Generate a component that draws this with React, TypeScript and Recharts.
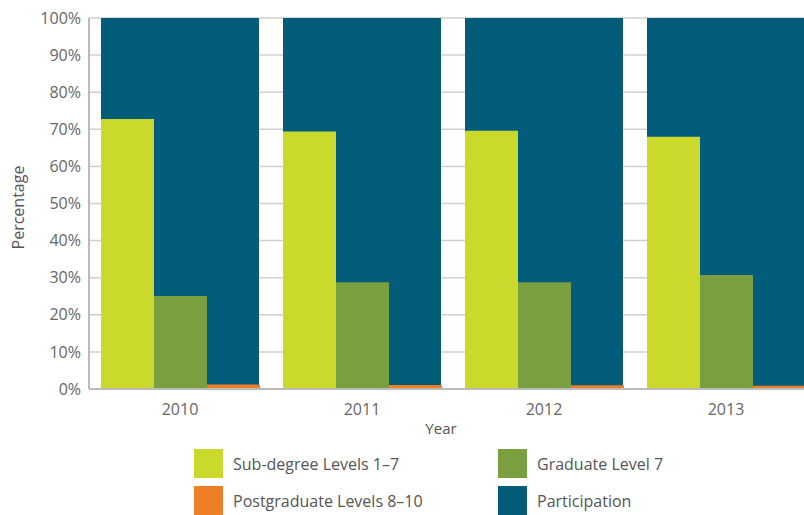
import React from 'react';
import { BarChart, Bar, XAxis, YAxis, CartesianGrid } from 'recharts';

const years = ['2010', '2011', '2012', '2013'];
const subDegree = [72.8, 69.4, 69.6, 68.0];
const graduate = [25.1, 28.8, 28.8, 30.7];
const postgraduate = [1.2, 1.1, 1.0, 0.9];
const participation = [100, 100, 100, 100];
const yTicks = [0, 10, 20, 30, 40, 50, 60, 70, 80, 90, 100];

const series = [
  { key: 'subDegree', name: 'Sub-degree Levels 1–7', color: '#cad92b' },
  { key: 'graduate', name: 'Graduate Level 7', color: '#7a9f3f' },
  { key: 'postgraduate', name: 'Postgraduate Levels 8–10', color: '#ee7f27' },
  { key: 'participation', name: 'Participation', color: '#025c7a' },
];

const data = years.map((year, i) => ({
  year,
  subDegree: subDegree[i],
  graduate: graduate[i],
  postgraduate: postgraduate[i],
  participation: participation[i],
}));

const FONT = '"Open Sans", sans-serif';
const colorOf = (k: string) => series.find((s) => s.key === k)!.color;

const YearLabel = ({ viewBox }: any) => (
  <text
    x={viewBox.x + viewBox.width / 2 - 12}
    y={viewBox.y + viewBox.height + 15}
    textAnchor="middle"
    fill="#555"
    fontSize={15}
    fontFamily={FONT}
  >
    Year
  </text>
);

const PctLabel = ({ viewBox }: any) => {
  const x = viewBox.x + 18;
  const y = viewBox.y + viewBox.height / 2 + 4;
  return (
    <text
      x={x}
      y={y}
      transform={`rotate(-90 ${x} ${y})`}
      textAnchor="middle"
      dominantBaseline="central"
      fill="#555"
      fontSize={16}
      fontFamily={FONT}
    >
      Percentage
    </text>
  );
};

const ChartLegend = () => (
  <div
    style={{
      position: 'absolute',
      left: 194,
      top: 449,
      display: 'grid',
      gridTemplateColumns: '304px auto',
      rowGap: 8,
      fontFamily: FONT,
      fontSize: 16,
      color: '#555',
    }}
  >
    {series.map((s) => (
      <div key={s.key} style={{ display: 'flex', alignItems: 'center', height: 29 }}>
        <span style={{ width: 29, height: 29, background: s.color, marginRight: 10, flex: 'none' }} />
        <span>{s.name}</span>
      </div>
    ))}
  </div>
);

export default function App() {
  return (
    <div
      style={{
        position: 'absolute',
        left: 0,
        top: 0,
        width: 804,
        height: 515,
        overflow: 'hidden',
        background: '#fff',
      }}
    >
      <BarChart
        width={830}
        height={515}
        data={data}
        margin={{ top: 18, right: 13, left: 0, bottom: 96 }}
        barCategoryGap={12}
        barGap={0}
      >
        <CartesianGrid vertical={false} stroke="#d0d0d0" strokeWidth={1.5} />
        <XAxis
          xAxisId="main"
          dataKey="year"
          stroke="#bbb"
          strokeWidth={2}
          tickLine={false}
          tickSize={6}
          tickMargin={9}
          tick={{ fill: '#666', fontSize: 16, fontFamily: FONT }}
          label={<YearLabel />}
        />
        <XAxis xAxisId="bg" dataKey="year" hide height={0} />
        <YAxis
          width={89}
          domain={[0, 100]}
          ticks={yTicks}
          interval={0}
          tickFormatter={(v) => `${v}%`}
          stroke="#bbb"
          strokeWidth={2}
          tickLine={false}
          tick={{ fill: '#666', fontSize: 16, fontFamily: FONT }}
          label={<PctLabel />}
        />
        <Bar
          xAxisId="bg"
          dataKey="participation"
          fill={colorOf('participation')}
          isAnimationActive={false}
        />
        <Bar xAxisId="main" dataKey="subDegree" fill={colorOf('subDegree')} isAnimationActive={false} />
        <Bar xAxisId="main" dataKey="graduate" fill={colorOf('graduate')} isAnimationActive={false} />
        <Bar xAxisId="main" dataKey="postgraduate" fill={colorOf('postgraduate')} isAnimationActive={false} />
      </BarChart>
      <ChartLegend />
    </div>
  );
}
